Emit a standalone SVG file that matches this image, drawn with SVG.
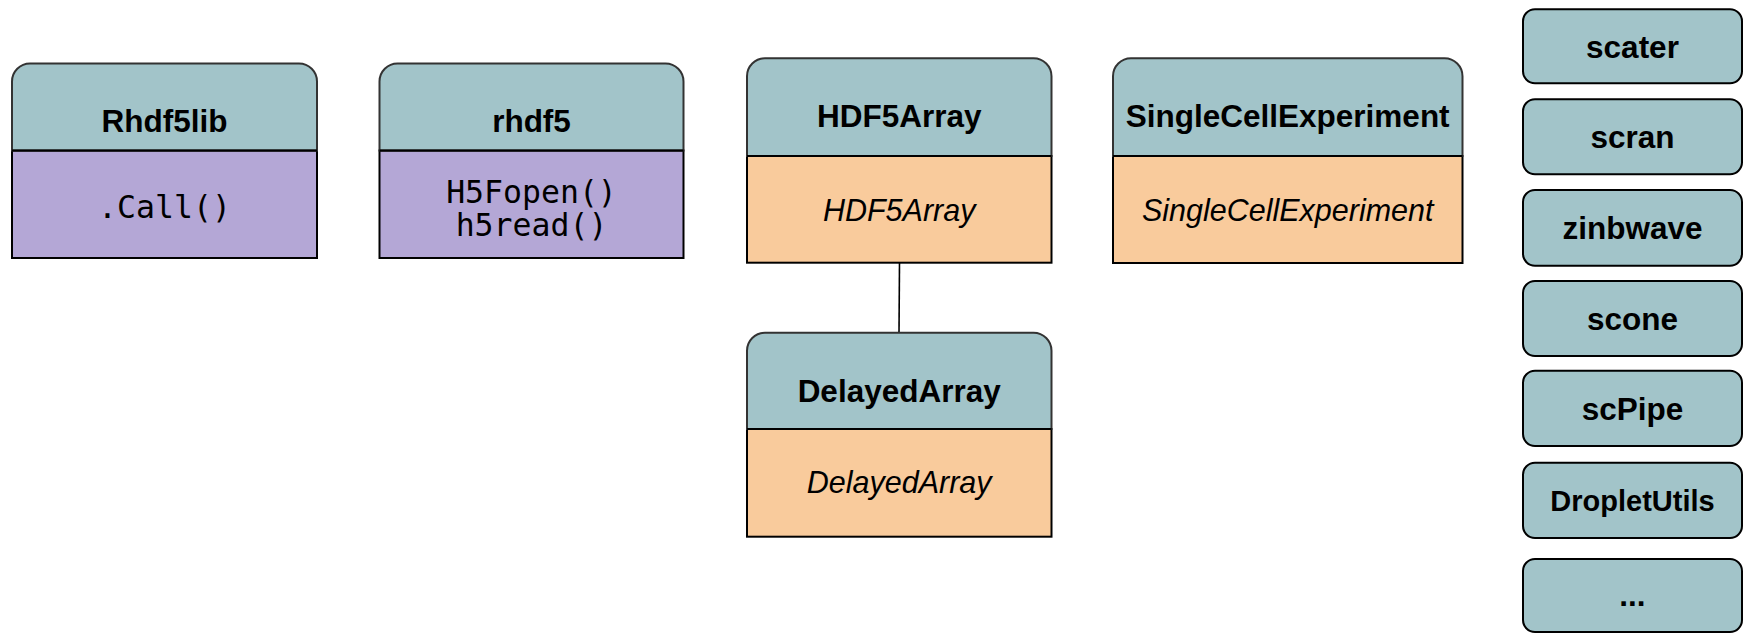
<svg xmlns="http://www.w3.org/2000/svg" width="1744" height="633" viewBox="0 0 1744 633">
<style>
.hdr{fill:#a2c4c9;stroke:#333;stroke-width:2}
.purple{fill:#b4a7d6;stroke:#000;stroke-width:2}
.orange{fill:#f9cb9c;stroke:#000;stroke-width:2}
.pill{fill:#a2c4c9;stroke:#000;stroke-width:2}
.t{font-family:"Liberation Sans",Arial,sans-serif;font-weight:bold;font-size:31.5px;fill:#000;text-anchor:middle}
.i{font-family:"Liberation Sans",Arial,sans-serif;font-style:italic;font-size:30.5px;fill:#000;text-anchor:middle}
.m{font-family:"DejaVu Sans Mono","Liberation Mono",monospace;font-size:31.5px;fill:#000;text-anchor:middle}
.conn{stroke:#000;stroke-width:1.6;fill:none}
</style>
<rect width="1744" height="633" fill="#fff"/>
<g id="connectors">
<line class="conn" x1="899.5" y1="262.7" x2="899" y2="332.7"/>
</g>
<g id="Rhdf5lib">
<rect class="purple" x="12" y="150.5" width="305" height="107.5"/>
<path class="hdr" d="M12,150.5 V81.5 A18,18 0 0 1 30,63.5 H299 A18,18 0 0 1 317,81.5 V150.5 Z"/>
<line x1="12" y1="150.5" x2="317" y2="150.5" stroke="#000" stroke-width="2"/>
<text class="t" x="164.5" y="132">Rhdf5lib</text>
<text class="m" x="164.5" y="218">.Call()</text>
</g>
<g id="rhdf5">
<rect class="purple" x="379.5" y="150.5" width="304" height="107.5"/>
<path class="hdr" d="M379.5,150.5 V81.5 A18,18 0 0 1 397.5,63.5 H665.5 A18,18 0 0 1 683.5,81.5 V150.5 Z"/>
<line x1="379.5" y1="150.5" x2="683.5" y2="150.5" stroke="#000" stroke-width="2"/>
<text class="t" x="531.5" y="132">rhdf5</text>
<text class="m" x="531.5" y="203">H5Fopen()</text>
<text class="m" x="531.5" y="236">h5read()</text>
</g>
<g id="HDF5Array">
<rect class="orange" x="747" y="156" width="304.5" height="106.7"/>
<path class="hdr" d="M747,156 V76.3 A18,18 0 0 1 765,58.3 H1033.5 A18,18 0 0 1 1051.5,76.3 V156 Z"/>
<line x1="747" y1="156" x2="1051.5" y2="156" stroke="#000" stroke-width="2"/>
<text class="t" x="899.2" y="127">HDF5Array</text>
<text class="i" x="899.2" y="220.5">HDF5Array</text>
</g>
<g id="SingleCellExperiment">
<rect class="orange" x="1113" y="156" width="349.5" height="107"/>
<path class="hdr" d="M1113,156 V76.3 A18,18 0 0 1 1131,58.3 H1444.5 A18,18 0 0 1 1462.5,76.3 V156 Z"/>
<line x1="1113" y1="156" x2="1462.5" y2="156" stroke="#000" stroke-width="2"/>
<text class="t" x="1287.7" y="127">SingleCellExperiment</text>
<text class="i" x="1287.7" y="220.5">SingleCellExperiment</text>
</g>
<g id="DelayedArray">
<rect class="orange" x="747" y="429" width="304.5" height="107.7"/>
<path class="hdr" d="M747,429 V350.7 A18,18 0 0 1 765,332.7 H1033.5 A18,18 0 0 1 1051.5,350.7 V429 Z"/>
<line x1="747" y1="429" x2="1051.5" y2="429" stroke="#000" stroke-width="2"/>
<text class="t" x="899.2" y="401.5">DelayedArray</text>
<text class="i" x="899.2" y="493">DelayedArray</text>
</g>
<g id="scater">
<rect class="pill" x="1523" y="9.3" width="219" height="74" rx="12"/>
<text class="t" x="1632.5" y="57.5">scater</text>
</g>
<g id="scran">
<rect class="pill" x="1523" y="99.3" width="219" height="75" rx="12"/>
<text class="t" x="1632.5" y="148">scran</text>
</g>
<g id="zinbwave">
<rect class="pill" x="1523" y="190" width="219" height="75.7" rx="12"/>
<text class="t" x="1632.5" y="239">zinbwave</text>
</g>
<g id="scone">
<rect class="pill" x="1523" y="281" width="219" height="75" rx="12"/>
<text class="t" x="1632.5" y="329.5">scone</text>
</g>
<g id="scPipe">
<rect class="pill" x="1523" y="370.7" width="219" height="75.3" rx="12"/>
<text class="t" x="1632.5" y="419.5">scPipe</text>
</g>
<g id="DropletUtils">
<rect class="pill" x="1523" y="462.7" width="219" height="75.3" rx="12"/>
<text class="t" x="1632.5" y="511" style="font-size:29px">DropletUtils</text>
</g>
<g id="more">
<rect class="pill" x="1523" y="559" width="219" height="73" rx="12"/>
<text class="t" x="1632.5" y="606">...</text>
</g>
</svg>
